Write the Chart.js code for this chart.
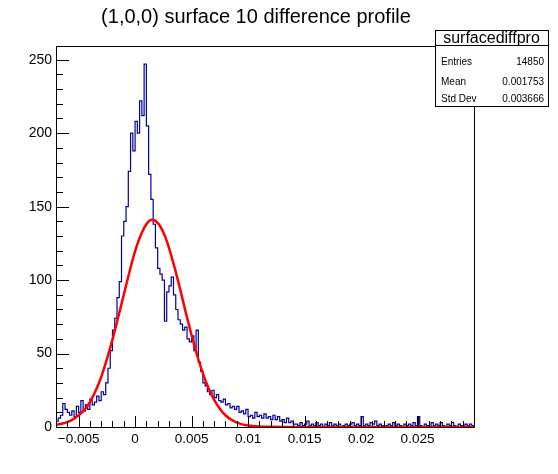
<!DOCTYPE html>
<html>
<head>
<meta charset="utf-8">
<script src="https://cdn.jsdelivr.net/npm/chart.js@4"></script>
<style>
  body { margin: 0; background: #fff; }
  canvas { display: block; }
</style>
</head>
<body>
<canvas id="chart" width="558" height="474"></canvas>
<script>
// histogram bins: low edge of first bin and bin width
const binLow = -0.007;
const binWidth = 0.0002;
const counts = [
    4, 6, 8, 16, 12, 10, 8, 11, 7, 14,
    10, 18, 11, 15, 12, 19, 15, 17, 21, 18,
    24, 22, 30, 40, 52, 66, 74, 88, 99, 130,
    140, 150, 174, 200, 188, 208, 200, 222, 212, 247,
    205, 172, 155, 138, 122, 108, 104, 100, 72, 92,
    96, 102, 90, 80, 73, 70, 66, 68, 60, 58,
    62, 52, 66, 44, 38, 30, 28, 24, 22, 25,
    20, 22, 18, 17, 19, 15, 16, 13, 14, 12,
    14, 10, 11, 9, 12, 7, 8, 6, 10, 7,
    8, 6, 9, 6, 7, 5, 8, 5, 7, 4,
    5, 3, 6, 3, 4, 2, 2, 1, 3, 1,
    2, 4, 1, 2, 1, 3, 1, 2, 0, 2,
    1, 3, 1, 2, 1, 2, 0, 1, 2, 1,
    2, 3, 1, 2, 1, 7, 1, 2, 1, 3,
    2, 4, 1, 2, 1, 0, 1, 2, 1, 3,
    1, 2, 1, 0, 2, 1, 2, 1, 3, 1,
    7, 1, 0, 2, 1, 0, 3, 1, 2, 1,
    3, 1, 0, 2, 1, 3, 1, 0, 2, 1,
    0, 2, 1, 2, 1
];

// red fit curve
const fitX = [-0.007, -0.0065, -0.006, -0.0055, -0.005, -0.0045, -0.004, -0.0035, -0.003, -0.0025,
    -0.002, -0.0015, -0.001, -0.0005, 0, 0.0005, 0.001, 0.0015, 0.002, 0.0025,
    0.003, 0.0035, 0.004, 0.0045, 0.005, 0.0055, 0.006, 0.0065, 0.007, 0.0075,
    0.008, 0.0085, 0.009, 0.0095, 0.01, 0.011, 0.012, 0.014, 0.03];
const fitY = [1.5, 2.2, 3.3, 5.2, 8, 11.5, 17, 24.5, 34, 46,
    59.5, 74.5, 90, 105.5, 119.5, 130.5, 138, 141, 139, 132.5,
    122, 108.5, 93.5, 77.5, 62.5, 48.5, 36.5, 26.5, 18.5, 12.5,
    8, 5, 3, 1.8, 1, 0.3, 0.1, 0, 0];

const xTicks = [-0.005, 0, 0.005, 0.01, 0.015, 0.02, 0.025];
const xTickLabels = ['\u22120.005', '0', '0.005', '0.01', '0.015', '0.02', '0.025'];
const yTicks = [0, 50, 100, 150, 200, 250];
const yTickLabels = ['0', '50', '100', '150', '200', '250'];

const titleText = '(1,0,0) surface 10 difference profile';
const statsName = 'surfacediffpro';
const statsLabels = ['Entries', 'Mean', 'Std Dev'];
const statsValues = ['14850', '0.001753', '0.003666'];

const FONT = "'Liberation Sans', Arial, Helvetica, sans-serif";

let histPoints = counts.map((c, i) => ({x: binLow + i * binWidth, y: c}));
histPoints.push({x: binLow + counts.length * binWidth, y: counts[counts.length - 1]});
let fitPoints = fitX.map((v, i) => ({x: v, y: fitY[i]}));

// frame + ROOT style ticks drawn inside the frame
const rootFrame = {
    id: 'rootFrame',
    afterDatasetsDraw(chart) {
        const {ctx, chartArea: a, scales: {x, y}} = chart;
        ctx.save();
        ctx.strokeStyle = '#000';
        ctx.lineWidth = 1;
        ctx.strokeRect(Math.round(a.left) + 0.5, Math.round(a.top) + 0.5,
            Math.round(a.right - a.left), Math.round(a.bottom - a.top));
        ctx.beginPath();
        for (let v = 0; v <= y.max; v += 10) {
            const py = Math.round(y.getPixelForValue(v)) + 0.5;
            const len = v % 50 === 0 ? 13 : 7;
            ctx.moveTo(a.left, py);
            ctx.lineTo(a.left + len, py);
        }
        for (let k = -6; k <= 29; k++) {
            const px = Math.round(x.getPixelForValue(k / 1000)) + 0.5;
            const len = k % 5 === 0 ? 11 : 6;
            ctx.moveTo(px, a.bottom);
            ctx.lineTo(px, a.bottom - len);
        }
        ctx.stroke();
        ctx.restore();
    }
};

// stats box, top right
const statsBox = {
    id: 'statsBox',
    afterDraw(chart) {
        const ctx = chart.ctx;
        const l = 435, r = 548, t = 30, mid = 45, b = 106;
        ctx.save();
        ctx.fillStyle = '#fff';
        ctx.fillRect(l, t, r - l, b - t);
        ctx.strokeStyle = '#000';
        ctx.lineWidth = 1;
        ctx.strokeRect(l + 0.5, t + 0.5, r - l, b - t);
        ctx.beginPath();
        ctx.moveTo(l, mid + 0.5);
        ctx.lineTo(r, mid + 0.5);
        ctx.stroke();
        ctx.fillStyle = '#000';
        ctx.textBaseline = 'middle';
        ctx.textAlign = 'center';
        ctx.font = '16px ' + FONT;
        ctx.fillText(statsName, (l + r) / 2, 38.5);
        ctx.font = '10px ' + FONT;
        const rowsY = [62, 82, 99.5];
        statsLabels.forEach((lab, i) => {
            ctx.textAlign = 'left';
            ctx.fillText(lab, 441, rowsY[i]);
            ctx.textAlign = 'right';
            ctx.fillText(statsValues[i], 544, rowsY[i]);
        });
        ctx.restore();
    }
};

let ctx = document.getElementById('chart');

let grafica = new Chart(ctx, {
    type: 'line',
    data: {
        datasets: [
            {
                label: 'fit',
                data: fitPoints,
                borderColor: '#ff0000',
                borderWidth: 2.5,
                pointRadius: 0,
                fill: false,
                cubicInterpolationMode: 'monotone',
                order: 0
            },
            {
                label: statsName,
                data: histPoints,
                borderColor: '#000099',
                borderWidth: 1.2,
                pointRadius: 0,
                fill: false,
                stepped: true,
                order: 1
            }
        ]
    },
    options: {
        responsive: false,
        animation: false,
        devicePixelRatio: 1,
        layout: {padding: {left: 0, right: 46, top: 0, bottom: 0}},
        scales: {
            x: {
                type: 'linear',
                min: binLow,
                max: binLow + counts.length * binWidth,
                grid: {display: false, drawTicks: false},
                border: {display: false},
                afterBuildTicks: s => { s.ticks = xTicks.map(v => ({value: v})); },
                afterFit: s => { s.height = 47; },
                ticks: {
                    autoSkip: false,
                    maxRotation: 0,
                    padding: 4,
                    color: '#000',
                    font: {family: FONT, size: 13.5},
                    callback: (v, i) => xTickLabels[i]
                }
            },
            y: {
                type: 'linear',
                min: 0,
                max: 1.05 * Math.max(...counts),
                grid: {display: false, drawTicks: false},
                border: {display: false},
                afterBuildTicks: s => { s.ticks = yTicks.map(v => ({value: v})); },
                afterFit: s => { s.width = 56; },
                ticks: {
                    padding: 4,
                    color: '#000',
                    font: {family: FONT, size: 14},
                    callback: (v, i) => yTickLabels[i]
                }
            },
            // empty right margin of the pad
            y2: {
                position: 'right',
                grid: {display: false, drawTicks: false},
                border: {display: false},
                ticks: {display: false},
                afterFit: s => { s.width = 38; }
            }
        },
        plugins: {
            legend: {display: false},
            tooltip: {enabled: false},
            title: {
                display: true,
                text: titleText,
                color: '#000',
                font: {family: FONT, size: 20, weight: 'normal'},
                padding: {top: 5, bottom: 17}
            }
        }
    },
    plugins: [rootFrame, statsBox]
});
</script>
</body>
</html>
